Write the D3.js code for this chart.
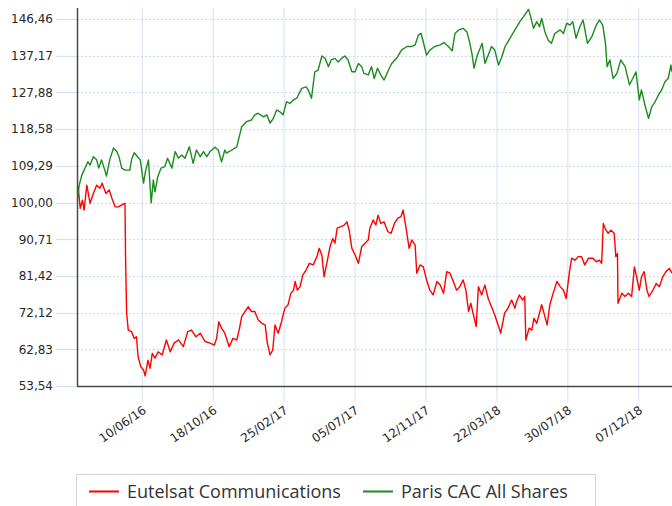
<!DOCTYPE html>
<html>
<head>
<meta charset="utf-8">
<script src="https://cdn.jsdelivr.net/npm/d3@7"></script>
<style>
  html, body { margin: 0; padding: 0; background: #fff; }
  svg { display: block; }
  .tick-label { font-family: "DejaVu Sans", Verdana, sans-serif; font-size: 12px; fill: #282828; }
  .legend-label { font-family: "Open Sans", "Noto Sans", sans-serif; font-size: 18px; fill: #333; }
</style>
</head>
<body>
<div id="chart"></div>
<script>
// rebased performance, 100 = 12/02/16
const eutelsatDates = [
  '2016-02-12','2016-02-14','2016-02-18','2016-02-22','2016-02-25','2016-03-01','2016-03-07','2016-03-13','2016-03-19','2016-03-25',
  '2016-03-29','2016-04-05','2016-04-11','2016-04-16','2016-04-22','2016-04-28','2016-05-04','2016-05-10','2016-05-11','2016-05-13',
  '2016-05-16','2016-05-22','2016-05-27','2016-05-31','2016-06-03','2016-06-08','2016-06-13','2016-06-16','2016-06-21','2016-06-25',
  '2016-06-29','2016-07-04','2016-07-10','2016-07-17','2016-07-25','2016-08-01','2016-08-08','2016-08-16','2016-08-25','2016-09-02',
  '2016-09-09','2016-09-17','2016-09-25','2016-10-04','2016-10-13','2016-10-21','2016-10-25','2016-10-29','2016-11-03','2016-11-09',
  '2016-11-17','2016-11-24','2016-12-01','2016-12-06','2016-12-10','2016-12-16','2016-12-22','2016-12-28','2017-01-03','2017-01-09',
  '2017-01-16','2017-01-22','2017-01-26','2017-01-31','2017-02-05','2017-02-09','2017-02-15','2017-02-21','2017-02-27','2017-03-05',
  '2017-03-10','2017-03-15','2017-03-18','2017-03-22','2017-03-27','2017-04-01','2017-04-07','2017-04-13','2017-04-20','2017-04-27',
  '2017-05-01','2017-05-06','2017-05-10','2017-05-15','2017-05-21','2017-05-26','2017-05-30','2017-06-03','2017-06-10','2017-06-16',
  '2017-06-21','2017-06-25','2017-06-30','2017-07-06','2017-07-12','2017-07-18','2017-07-24','2017-07-30','2017-08-02','2017-08-08',
  '2017-08-13','2017-08-17','2017-08-22','2017-08-28','2017-09-04','2017-09-10','2017-09-16','2017-09-22','2017-09-28','2017-10-02',
  '2017-10-07','2017-10-13','2017-10-18','2017-10-24','2017-10-27','2017-11-02','2017-11-08','2017-11-14','2017-11-20','2017-11-26',
  '2017-12-03','2017-12-09','2017-12-15','2017-12-21','2017-12-27','2018-01-02','2018-01-08','2018-01-14','2018-01-20','2018-01-25',
  '2018-01-30','2018-02-03','2018-02-08','2018-02-13','2018-02-17','2018-02-23','2018-03-01','2018-03-07','2018-03-13','2018-03-19',
  '2018-03-26','2018-03-30','2018-04-06','2018-04-12','2018-04-19','2018-04-25','2018-04-28','2018-05-03','2018-05-09','2018-05-13',
  '2018-05-15','2018-05-21','2018-05-26','2018-05-30','2018-06-04','2018-06-09','2018-06-13','2018-06-19','2018-06-23','2018-06-28',
  '2018-07-04','2018-07-11','2018-07-17','2018-07-23','2018-07-28','2018-08-03','2018-08-07','2018-08-13','2018-08-19','2018-08-25',
  '2018-08-31','2018-09-07','2018-09-15','2018-09-21','2018-09-27','2018-10-01','2018-10-04','2018-10-09','2018-10-13','2018-10-18',
  '2018-10-24','2018-10-27','2018-10-30','2018-10-31','2018-11-07','2018-11-13','2018-11-19','2018-11-25','2018-11-30','2018-12-04',
  '2018-12-09','2018-12-13','2018-12-18','2018-12-23','2018-12-27','2019-01-03','2019-01-09','2019-01-15','2019-01-21','2019-01-27',
  '2019-02-02','2019-02-07'
];
const eutelsatValues = [
  100.0,104.0,98.5,100.6,98.1,104.4,99.8,102.3,104.4,103.6,
  104.9,102.3,103.2,101.1,98.9,98.9,99.4,99.8,86.3,72.0,
  67.7,67.3,65.6,66.0,61.0,58.4,57.6,56.1,60.1,58.0,
  61.8,60.6,62.2,61.4,65.2,62.2,64.4,65.2,63.5,67.3,
  67.7,66.0,66.9,64.8,64.4,63.9,65.6,69.8,68.2,66.9,
  63.5,65.6,65.2,68.2,71.1,72.4,73.6,72.4,72.4,70.3,
  69.4,69.0,64.4,61.4,62.7,69.0,66.9,69.8,73.2,74.1,
  77.0,77.8,80.0,77.8,78.7,81.6,82.9,84.6,84.2,86.3,
  88.4,86.7,81.2,84.6,88.8,90.9,89.7,93.5,93.9,94.3,
  95.1,93.0,88.4,86.7,84.6,88.8,89.7,90.5,93.5,95.6,
  94.3,96.8,94.7,95.1,92.6,92.2,94.7,96.0,96.4,98.1,
  93.9,88.4,90.5,89.2,82.1,84.2,83.7,80.4,77.8,76.6,
  80.0,79.1,77.0,82.5,82.1,80.0,77.8,78.7,80.4,77.8,
  72.4,74.5,71.5,68.6,78.7,76.6,79.1,75.7,73.6,71.5,
  68.6,66.9,72.0,73.2,75.3,73.2,74.9,76.6,75.3,76.2,
  65.2,68.2,67.7,70.7,69.4,72.0,74.1,71.1,69.0,74.1,
  77.0,80.0,78.7,77.8,75.7,82.5,85.9,85.4,86.3,86.3,
  84.2,85.9,85.9,85.0,85.4,84.6,94.7,93.0,92.2,93.0,
  92.2,86.3,87.1,74.5,77.0,76.2,77.0,76.2,83.7,81.2,
  77.8,81.2,82.5,77.8,76.2,77.8,79.5,78.7,81.2,82.5,
  83.3,82.1
];

const cacDates = [
  '2016-02-12','2016-02-16','2016-02-21','2016-02-25','2016-03-03','2016-03-07','2016-03-13','2016-03-19','2016-03-23','2016-03-28',
  '2016-04-03','2016-04-06','2016-04-12','2016-04-19','2016-04-25','2016-04-29','2016-05-04','2016-05-10','2016-05-19','2016-05-22',
  '2016-05-27','2016-06-02','2016-06-07','2016-06-13','2016-06-17','2016-06-22','2016-06-27','2016-07-01','2016-07-04','2016-07-09',
  '2016-07-15','2016-07-22','2016-07-27','2016-08-04','2016-08-10','2016-08-16','2016-08-22','2016-08-28','2016-09-05','2016-09-12',
  '2016-09-18','2016-09-25','2016-10-01','2016-10-07','2016-10-13','2016-10-22','2016-10-28','2016-11-03','2016-11-09','2016-11-12',
  '2016-11-22','2016-12-01','2016-12-04','2016-12-10','2016-12-19','2016-12-28','2017-01-03','2017-01-09','2017-01-19','2017-01-25',
  '2017-01-31','2017-02-06','2017-02-12','2017-02-18','2017-02-24','2017-03-02','2017-03-09','2017-03-15','2017-03-21','2017-03-30',
  '2017-04-07','2017-04-11','2017-04-17','2017-04-23','2017-04-29','2017-05-06','2017-05-12','2017-05-18','2017-05-23','2017-05-30',
  '2017-06-05','2017-06-11','2017-06-17','2017-06-23','2017-06-30','2017-07-06','2017-07-12','2017-07-18','2017-07-22','2017-07-30',
  '2017-08-05','2017-08-10','2017-08-16','2017-08-22','2017-08-28','2017-09-05','2017-09-11','2017-09-20','2017-09-29','2017-10-09',
  '2017-10-18','2017-10-24','2017-10-30','2017-11-04','2017-11-10','2017-11-14','2017-11-20','2017-11-29','2017-12-09','2017-12-16',
  '2017-12-24','2017-12-31','2018-01-05','2018-01-12','2018-01-20','2018-01-27','2018-01-31','2018-02-05','2018-02-09','2018-02-15',
  '2018-02-20','2018-02-24','2018-03-01','2018-03-07','2018-03-13','2018-03-19','2018-03-26','2018-04-01','2018-04-07','2018-04-16',
  '2018-04-25','2018-05-04','2018-05-13','2018-05-20','2018-05-24','2018-05-29','2018-06-04','2018-06-09','2018-06-13','2018-06-19',
  '2018-06-25','2018-07-01','2018-07-07','2018-07-17','2018-07-23','2018-07-29','2018-08-04','2018-08-09','2018-08-15','2018-08-22',
  '2018-08-28','2018-09-05','2018-09-13','2018-09-21','2018-09-27','2018-10-03','2018-10-08','2018-10-11','2018-10-16','2018-10-22',
  '2018-10-29','2018-11-05','2018-11-13','2018-11-21','2018-11-27','2018-12-03','2018-12-09','2018-12-13','2018-12-20','2018-12-26',
  '2019-01-01','2019-01-07','2019-01-13','2019-01-19','2019-01-25','2019-01-31','2019-02-05','2019-02-07'
];
const cacValues = [
  100.0,104.4,107.0,108.2,110.3,109.5,111.6,110.8,108.7,110.8,
  108.2,106.7,110.8,113.8,112.9,111.6,108.7,108.2,108.2,110.8,
  112.6,111.6,110.8,104.9,108.2,110.8,99.9,105.7,102.7,106.5,
  108.7,109.1,111.2,108.7,112.9,111.2,112.0,111.2,114.1,109.9,
  113.3,111.6,112.9,111.6,112.9,114.0,113.3,110.3,113.3,112.5,
  113.3,114.1,115.8,119.2,120.5,120.9,122.2,122.6,121.7,122.2,
  120.1,121.3,123.4,123.0,122.2,125.5,125.1,126.0,126.4,128.9,
  129.3,128.5,126.4,133.1,133.5,137.1,136.5,134.4,136.1,136.5,
  135.6,136.5,137.1,136.1,133.1,133.1,135.2,134.4,132.7,132.3,
  134.4,131.4,134.0,132.3,131.0,133.5,135.2,136.5,138.6,139.5,
  139.5,139.9,142.4,142.8,139.5,137.3,138.6,139.5,139.9,140.5,
  139.5,138.4,142.8,143.7,144.1,143.2,141.1,137.8,134.0,137.3,
  139.0,140.3,135.2,137.3,139.5,138.6,134.8,136.9,139.5,141.6,
  143.7,145.8,147.5,148.9,147.0,144.1,145.8,144.5,146.6,143.2,
  141.1,140.3,142.8,143.7,142.8,145.4,144.9,145.8,141.6,144.5,
  146.2,140.3,142.0,144.9,146.2,144.9,140.3,134.4,136.1,131.4,
  132.7,136.1,134.4,129.8,131.4,133.1,126.0,128.5,124.3,121.3,
  124.3,125.5,127.2,128.5,130.6,131.4,134.8,133.1
];

const yTicks = [53.54, 62.83, 72.12, 81.42, 90.71, 100.00, 109.29, 118.58, 127.88, 137.17, 146.46];
const xTicks = ['2016-06-10','2016-10-18','2017-02-25','2017-07-05','2017-11-12','2018-03-22','2018-07-30','2018-12-07'];
const seriesNames = ['Eutelsat Communications', 'Paris CAC All Shares'];
const seriesColors = ['#ff0000', '#1d8a1d'];

const W = 672, H = 506;
const margin = { top: 8, right: 0, bottom: 120, left: 77 };
const plotW = W - margin.left - margin.right;
const plotH = H - margin.top - margin.bottom;

const parse = d3.timeParse('%Y-%m-%d');
const fmtTick = d3.timeFormat('%d/%m/%y');
const fmtNum = d => d.toFixed(2).replace('.', ',');

const svg = d3.select('#chart').append('svg')
  .attr('width', W)
  .attr('height', H);

const x = d3.scaleTime()
  .domain([parse('2016-02-12'), parse('2019-02-07')])
  .range([0, plotW]);

const y = d3.scaleLinear()
  .domain([53.54, 149.25])
  .range([plotH, 0]);

const g = svg.append('g').attr('transform', `translate(${margin.left},${margin.top})`);

// vertical grid + ticks under the axis
g.append('g')
  .selectAll('line')
  .data(xTicks.map(parse))
  .enter().append('line')
  .attr('x1', d => x(d) + 0.5).attr('x2', d => x(d) + 0.5)
  .attr('y1', 0).attr('y2', plotH + 16)
  .attr('stroke', '#d9e6f6')
  .attr('stroke-width', 1.2);

// horizontal grid (dotted) + short solid ticks on the left
const yg = g.append('g');
yg.selectAll('line.grid')
  .data(yTicks)
  .enter().append('line')
  .attr('class', 'grid')
  .attr('x1', 0).attr('x2', plotW)
  .attr('y1', d => Math.round(y(d)) + 0.5).attr('y2', d => Math.round(y(d)) + 0.5)
  .attr('stroke', '#c9dcf2')
  .attr('stroke-dasharray', '2,2');
yg.selectAll('line.tk')
  .data(yTicks)
  .enter().append('line')
  .attr('class', 'tk')
  .attr('x1', -21).attr('x2', 0)
  .attr('y1', d => Math.round(y(d)) + 0.5).attr('y2', d => Math.round(y(d)) + 0.5)
  .attr('stroke', '#d2e2f5')
  .attr('stroke-width', 1.2);
yg.selectAll('text')
  .data(yTicks)
  .enter().append('text')
  .attr('class', 'tick-label')
  .attr('x', -24)
  .attr('y', d => y(d))
  .attr('dy', '0.36em')
  .attr('text-anchor', 'end')
  .text(fmtNum);

// x labels
g.append('g')
  .selectAll('text')
  .data(xTicks.map(parse))
  .enter().append('text')
  .attr('class', 'tick-label')
  .attr('text-anchor', 'end')
  .attr('transform', d => `translate(${x(d) + 5},${plotH + 26}) rotate(-35)`)
  .text(fmtTick);

// lines
svg.append('clipPath').attr('id', 'clip')
  .append('rect').attr('width', plotW).attr('height', plotH);

const line = d3.line()
  .x(d => x(d[0]))
  .y(d => y(d[1]));

const series = [
  d3.zip(eutelsatDates.map(parse), eutelsatValues),
  d3.zip(cacDates.map(parse), cacValues)
];

g.append('g').attr('clip-path', 'url(#clip)')
  .selectAll('path')
  .data(series)
  .enter().append('path')
  .attr('d', line)
  .attr('fill', 'none')
  .attr('stroke', (d, i) => seriesColors[i])
  .attr('stroke-width', 1.4)
  .attr('stroke-linejoin', 'round');

// axes lines
g.append('line')
  .attr('x1', 0.5).attr('x2', 0.5).attr('y1', 0).attr('y2', plotH)
  .attr('stroke', '#4a4a4a').attr('stroke-width', 1.5);
g.append('line')
  .attr('x1', 0).attr('x2', plotW).attr('y1', plotH + 0.5).attr('y2', plotH + 0.5)
  .attr('stroke', '#4a4a4a').attr('stroke-width', 1.5);

// legend
const legend = svg.append('g');
legend.append('rect')
  .attr('x', 76.5).attr('y', 474.5)
  .attr('width', 519).attr('height', 40)
  .attr('fill', '#fff')
  .attr('stroke', '#d4d4d4');

const legendX = [89, 363];
seriesNames.forEach((name, i) => {
  legend.append('line')
    .attr('x1', legendX[i]).attr('x2', legendX[i] + 30)
    .attr('y1', 491.5).attr('y2', 491.5)
    .attr('stroke', seriesColors[i])
    .attr('stroke-width', 2);
  legend.append('text')
    .attr('class', 'legend-label')
    .attr('x', legendX[i] + 38)
    .attr('y', 498)
    .text(name);
});
</script>
</body>
</html>
